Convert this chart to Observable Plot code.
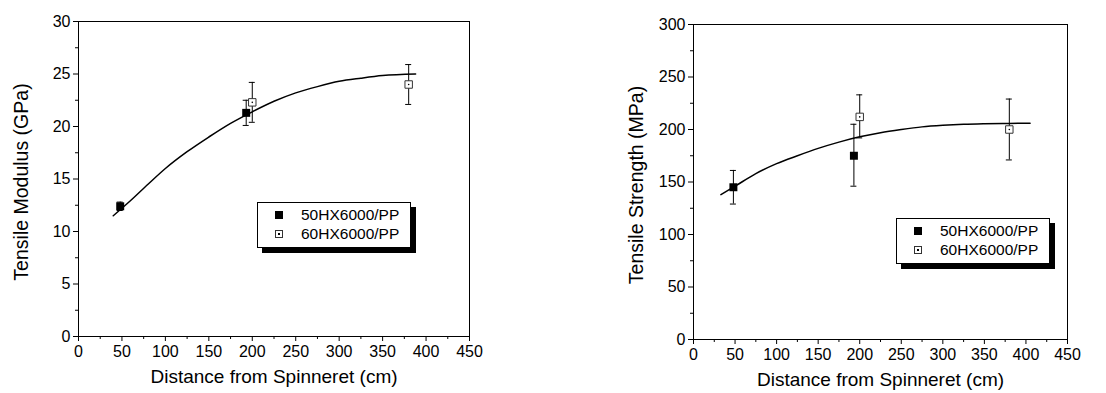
<!DOCTYPE html>
<html><head><meta charset="utf-8">
<script src="https://cdn.jsdelivr.net/npm/d3@7"></script>
<script src="https://cdn.jsdelivr.net/npm/@observablehq/plot@0.6"></script>
<style>
body{margin:0;background:#fff;font-family:"Liberation Sans",Arial,sans-serif;color:#000;}
#wrap{position:relative;width:1106px;height:393px;display:flex;}
#wrap > div.chart{width:553px;height:393px;}
.legend{position:absolute;background:#fff;border:1px solid #000;box-shadow:5px 5px 0 #000;font-size:15.5px;box-sizing:border-box;}
.legend .row{position:absolute;left:0;height:18px;line-height:18px;white-space:nowrap;}
.legend .mk{position:absolute;box-sizing:border-box;}
.legend .lbl{position:absolute;left:43px;top:0;}
</style>
</head><body>
<div id="wrap"><div class="chart" id="c1"></div><div class="chart" id="c2"></div></div>
<script>
// ---- data ----
const seriesNames = ["50HX6000/PP", "60HX6000/PP"];
const xTicks = [0, 50, 100, 150, 200, 250, 300, 350, 400, 450];
const xMinorTicks = [25, 75, 125, 175, 225, 275, 325, 375, 425];

// Left: Tensile Modulus (GPa)
const modTicks = [0, 5, 10, 15, 20, 25, 30];
const modMinorTicks = [2.5, 7.5, 12.5, 17.5, 22.5, 27.5];
const mod50X = [48, 193];
const mod50Y = [12.4, 21.3];
const mod50Lo = [12.0, 20.1];
const mod50Hi = [12.8, 22.5];
const mod60X = [200, 380];
const mod60Y = [22.3, 24.0];
const mod60Lo = [20.4, 22.1];
const mod60Hi = [24.2, 25.9];
const modFitX = [40, 60, 80, 100, 125, 150, 175, 200, 225, 250, 275, 300, 325, 350, 388];
const modFitY = [11.5, 12.95, 14.5, 16.0, 17.6, 19.0, 20.3, 21.4, 22.4, 23.2, 23.8, 24.3, 24.6, 24.85, 25.0];

// Right: Tensile Strength (MPa)
const strTicks = [0, 50, 100, 150, 200, 250, 300];
const strMinorTicks = [25, 75, 125, 175, 225, 275];
const str50X = [48, 193];
const str50Y = [145, 175];
const str50Lo = [129, 146];
const str50Hi = [161, 205];
const str60X = [200, 380];
const str60Y = [212, 200];
const str60Lo = [192, 171];
const str60Hi = [233, 229];
const strFitX = [33, 50, 75, 100, 125, 150, 175, 200, 225, 250, 275, 300, 325, 350, 380, 405];
const strFitY = [138, 146, 158, 167.5, 175, 182, 188, 193, 197, 200, 202.5, 204, 205, 205.5, 205.8, 206];

// ---- build ----
const zip = (xs, ys, lo, hi) => xs.map((x, i) => ({x, y: ys[i], lo: lo ? lo[i] : null, hi: hi ? hi[i] : null}));

function chart({el, yDomain, yTicks, yMinor, yLabel, ml, mr, mt, mb, s50, s60, fit}) {
  const errs = s50.concat(s60);
  const p = Plot.plot({
    width: 553, height: 393,
    marginLeft: ml, marginRight: mr, marginTop: mt, marginBottom: mb,
    style: {fontFamily: '"Liberation Sans", Arial, sans-serif', fontSize: "16px", color: "#000", background: "#fff"},
    x: {domain: [0, 450]},
    y: {domain: yDomain},
    marks: [
      Plot.frame({stroke: "#000", strokeWidth: 1}),
      Plot.axisX({ticks: xTicks, tickSize: 5, tickPadding: 4, label: null, fontSize: 16}),
      Plot.axisX({ticks: xMinorTicks, tickSize: 3, tickFormat: () => "", label: null}),
      Plot.axisY({ticks: yTicks, tickSize: 5, tickPadding: 3, label: null, fontSize: 16}),
      Plot.axisY({ticks: yMinor, tickSize: 3, tickFormat: () => "", label: null}),
      Plot.line(fit, {x: "x", y: "y", stroke: "#000", strokeWidth: 1.5, curve: "monotone-x"}),
      Plot.ruleX(errs, {x: "x", y1: "lo", y2: "hi", stroke: "#000", strokeWidth: 1}),
      Plot.ruleY(errs, {y: "lo", x1: "x", x2: "x", insetLeft: -3, insetRight: -3, stroke: "#000", strokeWidth: 1}),
      Plot.ruleY(errs, {y: "hi", x1: "x", x2: "x", insetLeft: -3, insetRight: -3, stroke: "#000", strokeWidth: 1}),
      Plot.dot(s50, {x: "x", y: "y", symbol: "square", r: 4.5, fill: "#000", stroke: "none"}),
      Plot.dot(s60, {x: "x", y: "y", symbol: "square", r: 4.2, fill: "#fff", stroke: "#333", strokeWidth: 1}),
      Plot.dot(s60, {x: "x", y: "y", r: 0.8, fill: "#000", stroke: "none"}),
      Plot.text([yLabel], {frameAnchor: "left", dx: -57, dy: 3, rotate: -90, textAnchor: "middle", lineAnchor: "middle", text: d => d, fontSize: 19.5, fill: "#000"}),
      Plot.text(["Distance from Spinneret (cm)"], {frameAnchor: "bottom", dy: 46, text: d => d, fontSize: 19, fill: "#000"})
    ]
  });
  document.getElementById(el).appendChild(p);
}

chart({el: "c1", yDomain: [0, 30], yTicks: modTicks, yMinor: modMinorTicks, yLabel: "Tensile Modulus (GPa)",
  ml: 78, mr: 84, mt: 21, mb: 57,
  s50: zip(mod50X, mod50Y, mod50Lo, mod50Hi), s60: zip(mod60X, mod60Y, mod60Lo, mod60Hi), fit: zip(modFitX, modFitY)});
chart({el: "c2", yDomain: [0, 300], yTicks: strTicks, yMinor: strMinorTicks, yLabel: "Tensile Strength (MPa)",
  ml: 140, mr: 39, mt: 24, mb: 54,
  s50: zip(str50X, str50Y, str50Lo, str50Hi), s60: zip(str60X, str60Y, str60Lo, str60Hi), fit: zip(strFitX, strFitY)});

function legend(left, top) {
  const box = document.createElement("div");
  box.className = "legend";
  Object.assign(box.style, {left: left + "px", top: top + "px", width: "154px", height: "46px"});
  seriesNames.forEach((name, i) => {
    const row = document.createElement("div");
    row.className = "row";
    row.style.top = (3 + i * 19) + "px";
    row.style.width = "150px";
    const mk = document.createElement("div");
    mk.className = "mk";
    if (i === 0) {
      Object.assign(mk.style, {left: "17px", top: "5px", width: "8px", height: "8px", background: "#000"});
    } else {
      Object.assign(mk.style, {left: "17px", top: "5px", width: "8px", height: "8px", background: "#fff", border: "1px solid #333"});
      const dot = document.createElement("div");
      Object.assign(dot.style, {position: "absolute", left: "2px", top: "2px", width: "2px", height: "2px", background: "#000"});
      mk.appendChild(dot);
    }
    const lbl = document.createElement("span");
    lbl.className = "lbl";
    lbl.textContent = name;
    row.appendChild(mk); row.appendChild(lbl);
    box.appendChild(row);
  });
  document.getElementById("wrap").appendChild(box);
}
legend(257, 202);
legend(896, 218);
</script>
</body></html>
